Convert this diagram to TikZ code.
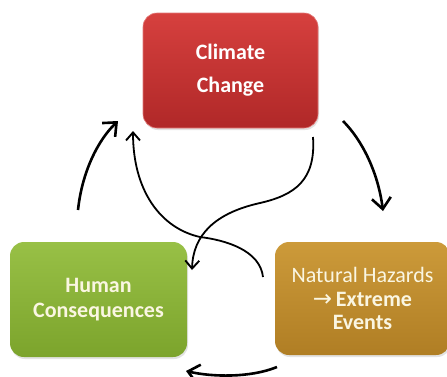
\documentclass[tikz,border=0pt]{standalone}
\usepackage{fontspec}
\setmainfont{Carlito}
\newfontfamily\symfont{DejaVu Sans}
\usetikzlibrary{arrows.meta,shadows}
\definecolor{redtop}{RGB}{214,64,62}
\definecolor{redbot}{RGB}{176,40,40}
\definecolor{greentop}{RGB}{152,192,70}
\definecolor{greenbot}{RGB}{124,164,44}
\definecolor{goldtop}{RGB}{204,154,58}
\definecolor{goldbot}{RGB}{176,126,36}
\definecolor{cream}{RGB}{250,246,226}
\tikzset{
  boxstyle/.style={rounded corners=14pt, minimum width=175pt, minimum height=115pt,
    inner sep=0pt, align=center, text=white,
    drop shadow={opacity=0.22, shadow xshift=1pt, shadow yshift=-2pt}},
  outerarrow/.style={line width=2.6pt, -{Straight Barb[length=11pt,width=19pt,line width=2.6pt]}},
  innerarrow/.style={line width=1.8pt, -{Straight Barb[length=8pt,width=14pt,line width=1.9pt]}}
}
\begin{document}
\begin{tikzpicture}[x=1pt,y=-1pt]
\useasboundingbox (0,0) rectangle (447,376);
\fill[white] (0,0) rectangle (447,376);
\node[boxstyle, top color=redtop, bottom color=redbot, draw=redtop!70!white, line width=0.6pt,
  font={\bfseries\fontsize{22}{33}\selectfont}]
  (climate) at (230.5,70.5) {Climate\\Change};
\node[boxstyle, minimum width=177pt, top color=greentop, bottom color=greenbot, text=cream,
  font={\bfseries\fontsize{22}{24.5}\selectfont}]
  (human) at (98.5,299.5) {Human\\Consequences};
\node[boxstyle, minimum height=113pt, top color=goldtop, bottom color=goldbot, text=cream,
  font={\fontsize{22}{23.5}\selectfont}]
  (natural) at (362.5,298.5) {Natural Hazards\\{\symfont\fontsize{23}{23.5}\selectfont →}\,\textbf{Extreme}\\\textbf{Events}};
% free ends of the connectors
\coordinate (a1s) at (78,210);   \coordinate (a1e) at (118,121);
\coordinate (a2s) at (343,121);  \coordinate (a2e) at (383,211);
\coordinate (a3s) at (277,367);  \coordinate (a3e) at (186,371);
\coordinate (a4s) at (313,137);  \coordinate (a4m) at (260,203); \coordinate (a4e) at (192,270);
\coordinate (a5s) at (263,277);  \coordinate (a5m) at (200,237); \coordinate (a5e) at (133,131);
\draw[outerarrow] (a1s) .. controls (82,172) and (98,140) .. (a1e);
\draw[outerarrow] (a2s) .. controls (362,140) and (378,172) .. (a2e);
\draw[outerarrow] (a3s) .. controls (250,378) and (212,377) .. (a3e);
\draw[innerarrow] (a4s) .. controls (316,180) and (295,195) .. (a4m) .. controls (215,213) and (193,235) .. (a4e);
\draw[innerarrow] (a5s) .. controls (260,250) and (225,240) .. (a5m) .. controls (160,228) and (133,190) .. (a5e);
\end{tikzpicture}
\end{document}
